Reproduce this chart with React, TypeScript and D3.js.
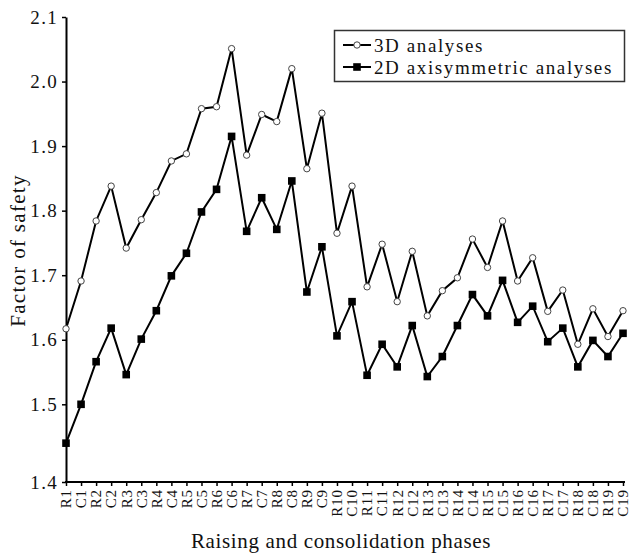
import React, { useEffect, useRef } from 'react'
import * as d3 from 'd3'

const phases = [
  'R1', 'C1', 'R2', 'C2', 'R3', 'C3', 'R4', 'C4', 'R5', 'C5',
  'R6', 'C6', 'R7', 'C7', 'R8', 'C8', 'R9', 'C9', 'R10', 'C10',
  'R11', 'C11', 'R12', 'C12', 'R13', 'C13', 'R14', 'C14', 'R15', 'C15',
  'R16', 'C16', 'R17', 'C17', 'R18', 'C18', 'R19', 'C19',
]

const fs3D = [
  1.617, 1.691, 1.784, 1.838, 1.742, 1.786, 1.828, 1.877, 1.888, 1.958,
  1.961, 2.051, 1.886, 1.949, 1.938, 2.02, 1.865, 1.951, 1.765, 1.838,
  1.682, 1.748, 1.659, 1.737, 1.637, 1.676, 1.696, 1.756, 1.712, 1.784,
  1.691, 1.727, 1.644, 1.677, 1.593, 1.648, 1.605, 1.645,
]

const fs2D = [
  1.45, 1.5, 1.566, 1.618, 1.546, 1.601, 1.645, 1.699, 1.734, 1.798,
  1.833, 1.915, 1.768, 1.82, 1.771, 1.846, 1.674, 1.744, 1.606, 1.659,
  1.545, 1.593, 1.558, 1.622, 1.543, 1.574, 1.622, 1.67, 1.637, 1.692,
  1.627, 1.652, 1.597, 1.618, 1.558, 1.599, 1.574, 1.61,
]

const yTicks = [1.4, 1.5, 1.6, 1.7, 1.8, 1.9, 2.0, 2.1]

const FONT = '"Liberation Serif", "DejaVu Serif", serif'

export default function App() {
  const svgRef = useRef(null)

  useEffect(() => {
    const svg = d3.select(svgRef.current)
    svg.selectAll('*').remove()

    const left = 66
    const right = 623
    const top = 17
    const bottom = 482

    const x = d3.scalePoint().domain(phases).range([left, right])
    // the original axis gives the 1.4-1.5 band more room than the rest
    const y = d3.scaleLinear().domain([1.4, 1.5, 2.1]).range([bottom, 404.3, top])

    const yAxis = d3
      .axisLeft(y)
      .tickValues(yTicks)
      .tickFormat(d3.format('.1f'))
      .tickSizeInner(4)
      .tickSizeOuter(0)
      .tickPadding(4)
    const gy = svg.append('g').attr('transform', `translate(${left},0)`).call(yAxis)
    gy.select('.domain').attr('stroke-width', 2)
    gy.selectAll('.tick line').attr('stroke-width', 1.5)
    gy.selectAll('text')
      .style('font-family', FONT)
      .style('font-size', '19px')
      .style('letter-spacing', '1.3px')
      .attr('fill', '#111')

    const xAxis = d3.axisBottom(x).tickSizeInner(4).tickSizeOuter(0).tickPadding(0)
    const gx = svg
      .append('g')
      .attr('transform', `translate(0,${bottom})`)
      .call(xAxis)
    gx.select('.domain').attr('stroke-width', 2).attr('d', `M${left - 1},0H${right + 2}`)
    gx.selectAll('.tick line').attr('stroke-width', 1.5)
    gx.selectAll('text')
      .style('font-family', FONT)
      .style('font-size', '15px')
      .style('letter-spacing', '0.9px')
      .attr('fill', '#111')
      .attr('text-anchor', 'end')
      .attr('transform', 'rotate(-90)')
      .attr('x', -7)
      .attr('y', 0)
      .attr('dy', '0.32em')

    const line = d3
      .line<number>()
      .x((_, i) => x(phases[i]))
      .y((d) => y(d))

    const series = [
      { name: '3D analyses', values: fs3D, marker: 'circle' },
      { name: '2D axisymmetric analyses', values: fs2D, marker: 'square' },
    ]

    const drawMarker = (g, kind, cx, cy) => {
      if (kind === 'circle') {
        g.append('circle')
          .attr('cx', cx)
          .attr('cy', cy)
          .attr('r', 3.2)
          .attr('fill', '#fff')
          .attr('stroke', '#444')
          .attr('stroke-width', 1)
      } else {
        g.append('rect')
          .attr('x', cx - 3.8)
          .attr('y', cy - 3.8)
          .attr('width', 7.6)
          .attr('height', 7.6)
          .attr('fill', '#000')
      }
    }

    series.forEach((s) => {
      svg
        .append('path')
        .datum(s.values)
        .attr('fill', 'none')
        .attr('stroke', '#000')
        .attr('stroke-width', 2)
        .attr('stroke-linejoin', 'miter')
        .attr('d', line)
      const g = svg.append('g')
      s.values.forEach((v, i) => drawMarker(g, s.marker, x(phases[i]), y(v)))
    })

    // Legend
    const lg = svg.append('g')
    lg.append('rect')
      .attr('x', 334.5)
      .attr('y', 30.5)
      .attr('width', 290)
      .attr('height', 51)
      .attr('fill', '#fff')
      .attr('stroke', '#333')
      .attr('stroke-width', 1.5)
    series.forEach((s, i) => {
      const ly = 45 + i * 22
      lg.append('line')
        .attr('x1', 343)
        .attr('x2', 371)
        .attr('y1', ly)
        .attr('y2', ly)
        .attr('stroke', '#000')
        .attr('stroke-width', 2)
      drawMarker(lg, s.marker, 357, ly)
      lg.append('text')
        .attr('x', 374)
        .attr('y', ly)
        .attr('dy', '0.35em')
        .style('font-family', FONT)
        .style('font-size', '19px')
        .style('letter-spacing', '1.6px')
        .attr('fill', '#111')
        .text(s.name)
    })

    // Axis titles
    svg
      .append('text')
      .attr('transform', `translate(18,${(top + bottom) / 2 + 1}) rotate(-90)`)
      .attr('text-anchor', 'middle')
      .attr('dy', '0.35em')
      .style('font-family', FONT)
      .style('font-size', '21px')
      .style('letter-spacing', '1.3px')
      .attr('fill', '#111')
      .text('Factor of safety')

    svg
      .append('text')
      .attr('x', 341)
      .attr('y', 541)
      .attr('text-anchor', 'middle')
      .attr('dy', '0.35em')
      .style('font-family', FONT)
      .style('font-size', '21px')
      .style('letter-spacing', '0.65px')
      .attr('fill', '#111')
      .text('Raising and consolidation phases')
  }, [])

  return (
    <div style={{ position: 'absolute', left: 0, top: 0 }}>
      <svg ref={svgRef} width={630} height={556} style={{ display: 'block', background: '#fff' }}></svg>
    </div>
  )
}
